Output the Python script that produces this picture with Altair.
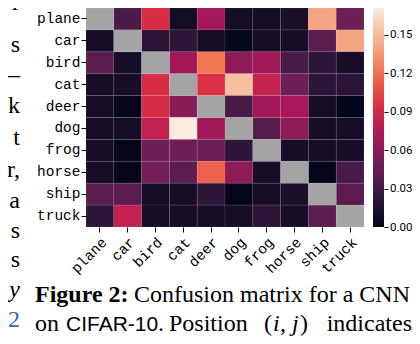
import altair as alt
import pandas as pd

classes = ["plane", "car", "bird", "cat", "deer", "dog", "frog", "horse", "ship", "truck"]

# rows = true class, columns = predicted class (None = diagonal, drawn grey)
row_plane = [None, 0.033, 0.093, 0.009, 0.069, 0.010, 0.010, 0.011, 0.141, 0.048]
row_car   = [0.010, None, 0.019, 0.020, 0.010, 0.002, 0.010, 0.010, 0.040, 0.141]
row_bird  = [0.040, 0.009, None, 0.069, 0.122, 0.060, 0.069, 0.032, 0.020, 0.010]
row_cat   = [0.010, 0.010, 0.093, None, 0.095, 0.152, 0.084, 0.048, 0.020, 0.020]
row_deer  = [0.010, 0.001, 0.093, 0.059, None, 0.032, 0.069, 0.072, 0.010, 0.000]
row_dog   = [0.010, 0.010, 0.083, 0.171, 0.069, None, 0.038, 0.060, 0.010, 0.010]
row_frog  = [0.010, 0.001, 0.047, 0.048, 0.047, 0.021, None, 0.010, 0.010, 0.010]
row_horse = [0.010, 0.001, 0.050, 0.040, 0.114, 0.060, 0.010, None, 0.001, 0.032]
row_ship  = [0.040, 0.040, 0.010, 0.010, 0.021, 0.001, 0.010, 0.011, None, 0.040]
row_truck = [0.021, 0.083, 0.010, 0.010, 0.010, 0.010, 0.020, 0.010, 0.040, None]
matrix = [row_plane, row_car, row_bird, row_cat, row_deer,
          row_dog, row_frog, row_horse, row_ship, row_truck]

cbar_ticks = [0.00, 0.03, 0.06, 0.09, 0.12, 0.15]
vmax = 0.171
rocket = ["#03051a", "#35193e", "#701f57", "#ad1759",
          "#e13342", "#f37651", "#f6b48f", "#faebdd"]
rocket_domain = [vmax * k / 7 for k in range(8)]

caption_1 = ["Figure 2:", "Confusion matrix for a CNN"]
caption_2 = ["on", "CIFAR-10", ".", "Position", "(", "i", ",", "j", ")", "indicates"]
left_frag = ["r", "s", "\u2013", "k", "t", "r,", "a", "s", "s", "y", "2"]

records = []
for i, t in enumerate(classes):
    for j, p in enumerate(classes):
        records.append({"true": t, "pred": p, "value": matrix[i][j]})
df = pd.DataFrame(records)
off = df[df["value"].notna()]
diag = df[df["value"].isna()]

# page geometry: svg starts at page (8, 8), 404 x 328
SVG_W, SVG_H = 404, 328
W, H = 278, 219
PL, PT = 78, 0   # plot origin at page (86, 8)

def rx(px):
    return px - 86

def ry(py):
    return py - 8

mono = "Liberation Mono"
xenc = alt.X("pred:N", scale=alt.Scale(domain=classes, paddingInner=0, paddingOuter=0),
             axis=alt.Axis(title=None, labelAngle=315, labelAlign="right", labelBaseline="top",
                           labelFont=mono, labelFontSize=14.5, labelColor="black",
                           tickSize=5, tickColor="black", tickWidth=1, domain=False,
                           labelPadding=3))
yenc = alt.Y("true:N", scale=alt.Scale(domain=classes, paddingInner=0, paddingOuter=0),
             axis=alt.Axis(title=None, labelFont=mono, labelFontSize=14.5, labelColor="black",
                           tickSize=5, tickColor="black", tickWidth=1, domain=False,
                           labelPadding=1))

cell_stroke = dict(stroke="white", strokeWidth=0.6, strokeOpacity=0.12)

heat = alt.Chart(off).mark_rect(**cell_stroke).encode(
    x=xenc, y=yenc,
    color=alt.Color("value:Q",
                    scale=alt.Scale(domain=rocket_domain, range=rocket, interpolate="rgb"),
                    legend=alt.Legend(orient="none", legendX=rx(373), legendY=0,
                                      direction="vertical", gradientLength=H,
                                      gradientThickness=11, title=None, labelExpr="''",
                                      gradientStrokeWidth=0, padding=0)),
)
diag_l = alt.Chart(diag).mark_rect(fill="#a4a4a4", **cell_stroke).encode(x=xenc, y=yenc)

tick_df = pd.DataFrame({"t": cbar_ticks})
ticks = alt.Chart(tick_df).mark_point(opacity=0).encode(
    x=alt.value(rx(378)),
    y=alt.Y("t:Q", scale=alt.Scale(domain=[0, vmax], nice=False, zero=False),
            axis=alt.Axis(orient="right", offset=384 - 364, values=cbar_ticks, format=".2f",
                          domain=False, grid=False, tickSize=4, tickColor="black",
                          labelPadding=1.5, labelFont="Roboto", labelFontSize=11.5,
                          labelColor="black", title=None)),
)

def txt(s, px, py, font="Liberation Serif", size=24, weight="normal", style="normal",
        color="black", align="left"):
    return alt.Chart(pd.DataFrame({"s": [s]})).mark_text(
        font=font, fontSize=size, fontWeight=weight, fontStyle=style, color=color,
        align=align, baseline="alphabetic").encode(
        text="s:N", x=alt.value(rx(px)), y=alt.value(ry(py)))

texts = []
# caption line 1
texts.append(txt(caption_1[0], 35, 302, weight="bold"))
texts.append(txt(caption_1[1], 134, 302))
# caption line 2 (justified)
L2 = 331
texts.append(txt(caption_2[0], 35, L2))
texts.append(txt(caption_2[1], 66, L2, font="Liberation Sans", size=21))
texts.append(txt(caption_2[2], 158, L2))
texts.append(txt(caption_2[3], 169, L2))
texts.append(txt(caption_2[4], 264, L2))
texts.append(txt(caption_2[5], 273, L2, style="italic"))
texts.append(txt(caption_2[6], 280, L2))
texts.append(txt(caption_2[7], 292, L2, style="italic"))
texts.append(txt(caption_2[8], 300, L2))
texts.append(txt(caption_2[9], 412, L2, align="right"))
# fragments of the neighbouring text column
frag_y = [10, 52, 82, 113, 145, 177, 208, 238, 267, 297, 327]
for s, yy in zip(left_frag, frag_y):
    style = "italic" if s == "y" else "normal"
    color = "#2f6db5" if s == "2" else "black"
    texts.append(txt(s, 20, yy, style=style, color=color, align="right"))

core = alt.layer(heat, diag_l)
chart = alt.layer(core, ticks, *texts).resolve_scale(y="independent").properties(
    width=W, height=H,
    padding={"left": PL, "top": PT, "right": SVG_W - PL - W, "bottom": SVG_H - H},
    autosize=alt.AutoSizeParams(type="none"),
    background="white",
).configure_view(stroke=None)

chart.save("out.html", embed_options={"renderer": "svg", "actions": False})
